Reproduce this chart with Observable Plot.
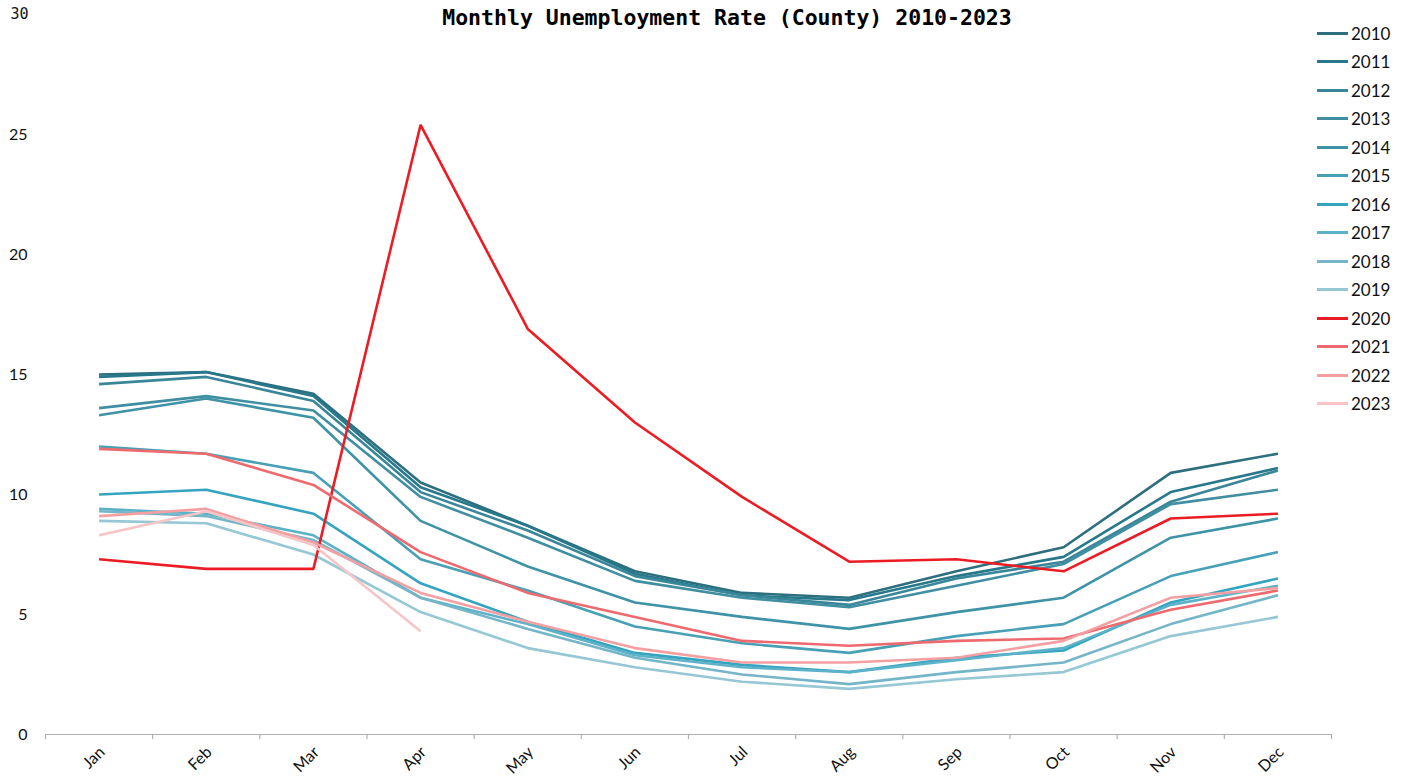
<!DOCTYPE html>
<html>
<head>
<meta charset="utf-8">
<script src="https://cdn.jsdelivr.net/npm/d3@7"></script>
<script src="https://cdn.jsdelivr.net/npm/@observablehq/plot@0.6"></script>
<style>
  html, body { margin: 0; padding: 0; background: #fff; }
  #wrap { position: relative; width: 1401px; height: 782px; overflow: hidden; }
  #title { position: absolute; left: 0; width: 1454px; top: 5px; text-align: center;
           font-family: "DejaVu Sans Mono", monospace; font-weight: bold; font-size: 21.5px; color: #000; }
  #legend { position: absolute; left: 1317px; top: 19px; font-family: Lato, "Noto Sans", sans-serif; font-size: 17px; color: #111; }
  .item { height: 28.5px; display: flex; align-items: center; }
  .swatch { width: 31px; height: 3px; margin-right: 3px; }
  #chart { position: absolute; left: 0; top: 0; }
</style>
</head>
<body>
<div id="wrap">
  <div id="chart"></div>
  <div id="title">Monthly Unemployment Rate (County) 2010-2023</div>
  <div id="legend"></div>
</div>
<script>
const months = ["Jan","Feb","Mar","Apr","May","Jun","Jul","Aug","Sep","Oct","Nov","Dec"];
const years = ["2010","2011","2012","2013","2014","2015","2016","2017","2018","2019","2020","2021","2022","2023"];
const colors = ["#2d6f7e","#26788a","#398699","#3f8ea1","#3e93a7","#47a0b5","#34a4bf","#5cb2c8","#74b5c8","#95c7d5","#ec1c24","#ef6a6e","#f4a0a2","#f8c4c5"];

const v2010 = [15.0, 15.1, 14.2, 10.5, 8.7, 6.8, 5.9, 5.7, 6.8, 7.8, 10.9, 11.7];
const v2011 = [14.9, 15.1, 14.1, 10.3, 8.7, 6.7, 5.8, 5.6, 6.6, 7.4, 10.1, 11.1];
const v2012 = [14.6, 14.9, 13.9, 10.1, 8.5, 6.6, 5.8, 5.4, 6.5, 7.2, 9.7, 11.0];
const v2013 = [13.6, 14.1, 13.5, 9.9, 8.2, 6.4, 5.7, 5.3, 6.2, 7.1, 9.6, 10.2];
const v2014 = [13.3, 14.0, 13.2, 8.9, 7.0, 5.5, 4.9, 4.4, 5.1, 5.7, 8.2, 9.0];
const v2015 = [12.0, 11.7, 10.9, 7.3, 6.0, 4.5, 3.8, 3.4, 4.1, 4.6, 6.6, 7.6];
const v2016 = [10.0, 10.2, 9.2, 6.3, 4.7, 3.4, 2.9, 2.6, 3.2, 3.5, 5.5, 6.5];
const v2017 = [9.4, 9.2, 8.3, 5.7, 4.6, 3.3, 2.8, 2.6, 3.1, 3.6, 5.4, 6.2];
const v2018 = [9.3, 9.1, 8.1, 5.7, 4.4, 3.2, 2.5, 2.1, 2.6, 3.0, 4.6, 5.8];
const v2019 = [8.9, 8.8, 7.5, 5.1, 3.6, 2.8, 2.2, 1.9, 2.3, 2.6, 4.1, 4.9];
const v2020 = [7.3, 6.9, 6.9, 25.4, 16.9, 13.0, 9.9, 7.2, 7.3, 6.8, 9.0, 9.2];
const v2021 = [11.9, 11.7, 10.4, 7.6, 5.9, 4.9, 3.9, 3.7, 3.9, 4.0, 5.2, 6.0];
const v2022 = [9.1, 9.4, 8.0, 5.9, 4.7, 3.6, 3.0, 3.0, 3.2, 3.9, 5.7, 6.1];
const v2023 = [8.3, 9.3, 7.9, 4.3];
const yTicks = [0, 5, 10, 15, 20, 25];
const yTopTick = [30];

const series = [v2010, v2011, v2012, v2013, v2014, v2015, v2016, v2017, v2018, v2019, v2020, v2021, v2022, v2023];
const data = series.flatMap((vals, s) => vals.map((v, m) => ({year: years[s], month: m, value: v})));

const chart = Plot.plot({
  width: 1401,
  height: 782,
  marginLeft: 45,
  marginRight: 70,
  marginTop: 14,
  marginBottom: 48,
  style: {fontFamily: "Lato, 'Noto Sans', sans-serif", background: "transparent"},
  x: {type: "linear", domain: [0, months.length], axis: null},
  y: {domain: [0, 30], axis: null},
  color: {domain: years, range: colors},
  marks: [
    Plot.ruleY([0], {stroke: "#b0b0b0", strokeWidth: 1.2}),
    Plot.axisX({ticks: d3.range(months.length + 1), tickFormat: () => "", tickSize: 5, stroke: "#b0b0b0", strokeWidth: 1.2, label: null}),
    Plot.axisX({ticks: months.map((m, i) => i + 0.5), tickFormat: d => months[Math.floor(d)], tickSize: 0,
      tickRotate: -45, tickPadding: 15, fontSize: 16, fill: "#111", dx: 3, label: null}),
    Plot.axisY({ticks: yTicks, tickSize: 0, tickPadding: 18, fontSize: 16, fill: "#111", label: null}),
    Plot.axisY({ticks: yTopTick, tickSize: 0, tickPadding: 17, fontSize: 15, fill: "#111", fontFamily: "DejaVu Sans Mono", label: null}),
    Plot.line(data, {x: d => d.month + 0.5, y: "value", z: "year", stroke: "year", strokeWidth: 2.6, strokeLinejoin: "miter", strokeLinecap: "butt"})
  ]
});
document.getElementById("chart").appendChild(chart);

const legend = document.getElementById("legend");
years.forEach((y, i) => {
  const item = document.createElement("div");
  item.className = "item";
  const sw = document.createElement("div");
  sw.className = "swatch";
  sw.style.background = colors[i];
  const t = document.createElement("span");
  t.textContent = y;
  item.appendChild(sw);
  item.appendChild(t);
  legend.appendChild(item);
});
</script>
</body>
</html>
